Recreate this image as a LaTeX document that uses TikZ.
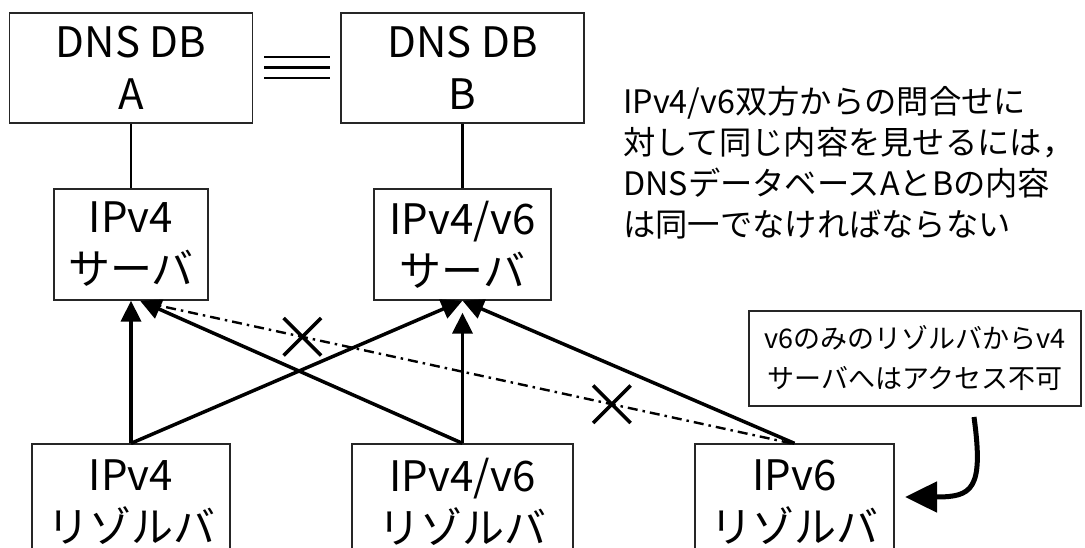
\documentclass[tikz,border=0pt]{standalone}
\usepackage{fontspec}
\setmainfont{Noto Sans CJK JP}
\usetikzlibrary{arrows.meta,calc,shapes.misc}
\begin{document}
\begin{tikzpicture}[x=1pt,y=-1pt,
  box/.style={draw=black!85, line width=1.3pt, align=center, inner sep=0pt,
    font=\fontsize{42}{52}\selectfont},
  link/.style={line width=2.2pt},
  flow/.style={line width=3.5pt, -{Triangle[length=21pt,width=20pt]}},
  noacc/.style={line width=2.4pt, dash pattern=on 10pt off 5pt on 2.5pt off 5pt},
  xmark/.style={cross out, draw, solid, line width=3.5pt, minimum size=34pt, inner sep=0pt},
  note/.style={draw=black!85, line width=1.3pt, align=center, inner sep=0pt,
    font=\fontsize{27}{40}\selectfont},
  msgtext/.style={align=left, inner sep=0pt, font=\fontsize{32.3}{41}\selectfont},
  pointer/.style={line width=5pt, -{Triangle[length=32pt,width=30pt]}}]
\useasboundingbox (0,0) rectangle (1085,548);
\clip (0,0) rectangle (1085,548);

% database boxes
\node[box, minimum width=243pt, minimum height=110pt] (dbA) at (131,68) {DNS DB\\A};
\node[box, minimum width=243pt, minimum height=110pt] (dbB) at (462.5,68) {DNS DB\\B};
% equality sign
\foreach \yy in {57,67.5,78} \draw[line width=2.8pt] (264,\yy) -- (330,\yy);

% servers
\node[box, minimum width=154pt, minimum height=111pt] (srv4) at (131,244.5) {IPv4\\サーバ};
\node[box, minimum width=177pt, minimum height=111pt] (srv46) at (462.5,244.5) {IPv4/v6\\サーバ};

% resolvers
\node[box, minimum width=198pt, minimum height=116pt] (res4) at (131,502) {IPv4\\リゾルバ};
\node[box, minimum width=221pt, minimum height=116pt] (res46) at (462.5,502) {IPv4/v6\\リゾルバ};
\node[box, minimum width=199pt, minimum height=116pt] (res6) at (794.5,502) {IPv6\\リゾルバ};

% links db - server
\draw[link] (dbA) -- (srv4);
\draw[link] (dbB) -- (srv46);

% queries
\draw[flow] (res4.north) -- (srv4.south);
\draw[flow] (res4.north) -- (srv46.south);
\draw[flow] (res46.north) -- ($(srv4.south)+(9,0)$);
\draw[flow] (res46.north) -- ($(srv46.south)+(0,12)$);
\draw[flow] (res6.north) -- (srv46.south);
\coordinate (nfrom) at ($(res6.north)+(-3,0)$);
\coordinate (nto) at ($(srv4.south)+(19,3)$);
\draw[noacc] (nfrom) -- (nto);
\node[xmark] (x1) at ($(nfrom)!0.7625!(nto)$) {};
\node[xmark] (x2) at ($(nfrom)!0.28!(nto)$) {};

% explanation text
\node[msgtext, anchor=north west] (msg) at (623,86)
  {IPv4/v6双方からの問合せに\\対して同じ内容を見せるには，\\DNSデータベースAとBの内容\\は同一でなければならない};

% note box and pointer
\node[note, minimum width=332pt, minimum height=95pt] (nt) at (915,358.5)
  {v6のみのリゾルバからv4\\サーバへはアクセス不可};
\coordinate (ps) at (974,417);
\coordinate (pe) at (905,497);
\draw[pointer] (ps) .. controls (984,490) and (972,497) .. (pe);
\end{tikzpicture}
\end{document}
